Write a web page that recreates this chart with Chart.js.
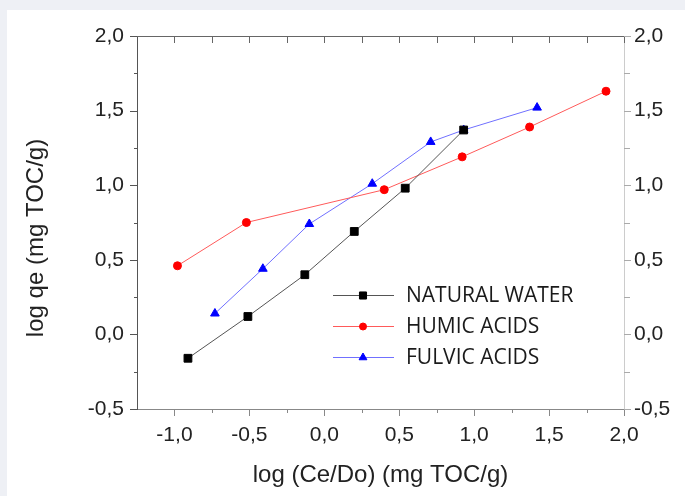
<!DOCTYPE html>
<html>
<head>
<meta charset="utf-8">
<script src="https://cdn.jsdelivr.net/npm/chart.js@4.4.1/dist/chart.umd.min.js"></script>
<style>
  html, body { margin: 0; padding: 0; background: #eef0f5; }
  #card { position: absolute; left: 7px; top: 10px; right: 0; bottom: 0; background: #fff; }
  #wrap { position: absolute; left: 0; top: 0; width: 685px; height: 496px; }
</style>
</head>
<body>
<div id="card"></div>
<div id="wrap"><canvas id="myChart"></canvas></div>
<script>
// data
const seriesNames = ['NATURAL WATER', 'HUMIC ACIDS', 'FULVIC ACIDS'];
const naturalX = [-0.91, -0.51, -0.13, 0.20, 0.54, 0.93];
const naturalY = [-0.16, 0.12, 0.40, 0.69, 0.98, 1.37];
const humicX = [-0.98, -0.52, 0.40, 0.92, 1.37, 1.88];
const humicY = [0.46, 0.75, 0.97, 1.19, 1.39, 1.63];
const fulvicX = [-0.73, -0.41, -0.10, 0.32, 0.71, 0.93, 1.42];
const fulvicY = [0.14, 0.44, 0.74, 1.01, 1.29, 1.37, 1.52];

const xTicks = [-1.0, -0.5, 0.0, 0.5, 1.0, 1.5, 2.0];
const xMinorTicks = [-0.75, -0.25, 0.25, 0.75, 1.25, 1.75];
const yTicks = [-0.5, 0.0, 0.5, 1.0, 1.5, 2.0];
const yMinorTicks = [-0.25, 0.25, 0.75, 1.25, 1.75];
const xTitle = 'log (Ce/Do) (mg TOC/g)';
const yTitle = 'log qe (mg TOC/g)';

function toPoints(xs, ys) {
  return xs.map(function (x, i) { return { x: x, y: ys[i] }; });
}
function fmt(v) {
  return v.toFixed(1).replace('.', ',');
}

const tickFont = { family: 'Liberation Sans', size: 21 };

// tick marks: left/bottom/right outward, top inward
const tickMarks = {
  id: 'tickMarks',
  afterDraw: function (chart) {
    const ctx = chart.ctx;
    const a = chart.chartArea;
    const x = chart.scales.x, y = chart.scales.y;
    ctx.save();
    ctx.lineWidth = 1;
    function line(x1, y1, x2, y2, color) {
      ctx.strokeStyle = color;
      ctx.beginPath();
      ctx.moveTo(x1, y1);
      ctx.lineTo(x2, y2);
      ctx.stroke();
    }
    // top border
    line(a.left, Math.round(a.top) + 0.5, a.right, Math.round(a.top) + 0.5, '#666');
    xTicks.forEach(function (v) {
      const px = Math.round(x.getPixelForValue(v)) + 0.5;
      line(px, a.bottom, px, a.bottom + 7, '#888');
      line(px, a.top, px, a.top + 7, '#666');
    });
    xMinorTicks.forEach(function (v) {
      const px = Math.round(x.getPixelForValue(v)) + 0.5;
      line(px, a.bottom, px, a.bottom + 4, '#888');
      line(px, a.top, px, a.top + 7, '#666');
    });
    yTicks.forEach(function (v) {
      const py = Math.round(y.getPixelForValue(v)) + 0.5;
      line(a.left - 7, py, a.left, py, '#555');
      line(a.right, py, a.right + 7, py, '#aaa');
    });
    yMinorTicks.forEach(function (v) {
      const py = Math.round(y.getPixelForValue(v)) + 0.5;
      line(a.left - 3, py, a.left, py, '#555');
      line(a.right, py, a.right + 6, py, '#aaa');
    });
    ctx.restore();
  }
};

// axis titles
const axisTitles = {
  id: 'axisTitles',
  afterDraw: function (chart) {
    const ctx = chart.ctx;
    const a = chart.chartArea;
    ctx.save();
    ctx.fillStyle = '#222';
    ctx.font = '24px "Liberation Sans"';
    ctx.textAlign = 'center';
    ctx.textBaseline = 'middle';
    ctx.fillText(xTitle, (a.left + a.right) / 2, a.bottom + 66);
    ctx.translate(36, a.top + 202);
    ctx.rotate(-Math.PI / 2);
    ctx.fillText(yTitle, 0, 0);
    ctx.restore();
  }
};

// legend drawn inside the plot
const innerLegend = {
  id: 'innerLegend',
  afterDraw: function (chart) {
    const ctx = chart.ctx;
    const a = chart.chartArea;
    ctx.save();
    chart.data.datasets.forEach(function (ds, i) {
      const yy = a.top + 259 + i * 31;
      ctx.strokeStyle = ds.borderColor;
      ctx.lineWidth = 1;
      ctx.beginPath();
      ctx.moveTo(a.left + 196, yy + 0.5);
      ctx.lineTo(a.left + 257, yy + 0.5);
      ctx.stroke();
      ctx.fillStyle = ds.pointBackgroundColor;
      ctx.strokeStyle = ds.pointBorderColor;
      Chart.helpers.drawPoint(ctx, {
        pointStyle: ds.pointStyle,
        radius: ds.pointRadius - 0.5,
        borderWidth: 1,
        rotation: 0
      }, a.left + 226, yy + 0.5);
      ctx.fillStyle = '#1a1a1a';
      ctx.font = '500 21px "Open Sans"';
      ctx.textAlign = 'left';
      ctx.textBaseline = 'middle';
      ctx.fillText(ds.label, a.left + 269, yy + 1);
    });
    ctx.restore();
  }
};

const data = {
  datasets: [{
    label: seriesNames[0],
    data: toPoints(naturalX, naturalY),
    borderColor: '#555',
    pointBackgroundColor: '#000',
    pointBorderColor: '#000',
    pointStyle: 'rect',
    pointRadius: 5.5,
    borderWidth: 1
  }, {
    label: seriesNames[1],
    data: toPoints(humicX, humicY),
    borderColor: '#ff5a5a',
    pointBackgroundColor: '#ff0000',
    pointBorderColor: '#ff0000',
    pointStyle: 'circle',
    pointRadius: 4,
    borderWidth: 1
  }, {
    label: seriesNames[2],
    data: toPoints(fulvicX, fulvicY),
    borderColor: '#7070ff',
    pointBackgroundColor: '#0000ff',
    pointBorderColor: '#0000ff',
    pointStyle: 'triangle',
    pointRadius: 5,
    borderWidth: 1
  }]
};

const config = {
  type: 'scatter',
  data: data,
  options: {
    responsive: true,
    maintainAspectRatio: false,
    animation: false,
    showLine: true,
    layout: { padding: { top: 36, left: 0, right: 0, bottom: 0 } },
    plugins: {
      legend: { display: false },
      tooltip: { enabled: false }
    },
    scales: {
      x: {
        type: 'linear',
        position: 'bottom',
        min: -1.25,
        max: 2.0,
        afterBuildTicks: function (s) { s.ticks = xTicks.map(function (v) { return { value: v }; }); },
        afterFit: function (s) { s.height = 87; },
        grid: { display: false, drawTicks: false },
        border: { display: true, color: '#888', width: 1 },
        ticks: {
          padding: 14,
          maxRotation: 0,
          autoSkip: false,
          color: '#222',
          font: tickFont,
          callback: function (v) { return fmt(v); }
        }
      },
      y: {
        type: 'linear',
        position: 'left',
        min: -0.5,
        max: 2.0,
        afterBuildTicks: function (s) { s.ticks = yTicks.map(function (v) { return { value: v }; }); },
        afterFit: function (s) { s.width = 137; },
        grid: { display: false, drawTicks: false },
        border: { display: true, color: '#555', width: 1 },
        ticks: {
          padding: 13,
          color: '#222',
          font: tickFont,
          callback: function (v) { return fmt(v); }
        }
      },
      y2: {
        type: 'linear',
        position: 'right',
        min: -0.5,
        max: 2.0,
        afterBuildTicks: function (s) { s.ticks = yTicks.map(function (v) { return { value: v }; }); },
        afterFit: function (s) { s.width = 61; },
        grid: { display: false, drawTicks: false },
        border: { display: true, color: '#ccc', width: 1 },
        ticks: {
          padding: 10,
          color: '#222',
          font: tickFont,
          callback: function (v) { return fmt(v); }
        }
      }
    }
  },
  plugins: [tickMarks, axisTitles, innerLegend]
};

const myChart = new Chart(document.getElementById('myChart'), config);
</script>
</body>
</html>
